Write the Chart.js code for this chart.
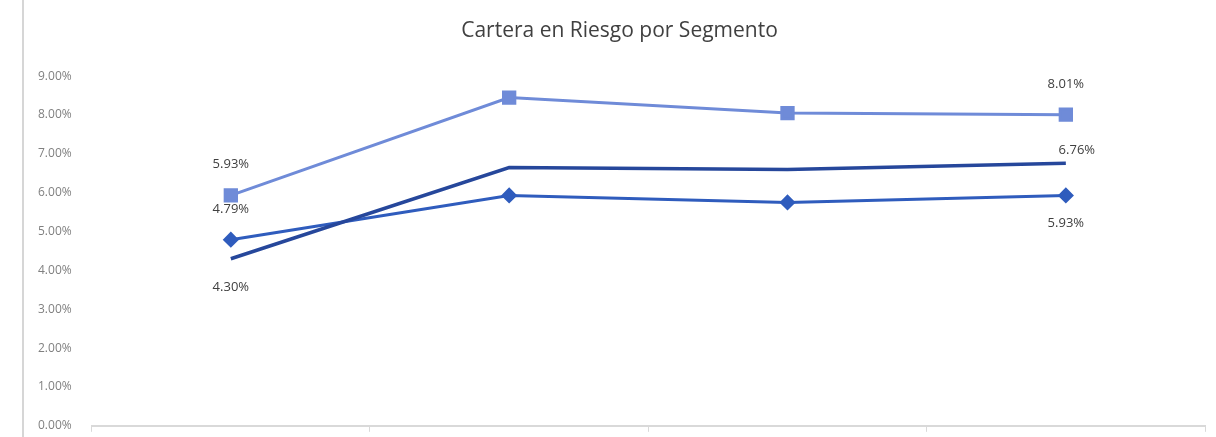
<!DOCTYPE html>
<html>
<head>
<meta charset="utf-8">
<script src="https://cdn.jsdelivr.net/npm/chart.js@4/dist/chart.umd.min.js"></script>
<style>
  html, body { margin: 0; padding: 0; background: #fff; overflow: hidden; }
  #wrap { position: relative; width: 1216px; height: 437px; overflow: hidden; }
  #edge { position: absolute; left: 22px; top: 0; width: 2px; height: 437px; background: #d6d6d6; }
</style>
</head>
<body>
<div id="wrap">
  <div id="edge"></div>
  <canvas id="myChart" width="1216" height="445"></canvas>
</div>
<script>
// categorias (los rótulos del eje X quedan fuera del recorte)
const categories = ['Segmento 1', 'Segmento 2', 'Segmento 3', 'Segmento 4'];
const yTicks = [0, 1, 2, 3, 4, 5, 6, 7, 8, 9];

// valores en %
const serieA = [5.93, 8.45, 8.05, 8.01];
const serieB = [4.30, 6.65, 6.60, 6.76];
const serieC = [4.79, 5.93, 5.75, 5.93];

// solo se rotulan el primer y el último punto
const labelIdx = [0, 3];

(() => {
  'use strict';

  const ctx = document.getElementById('myChart');

  // desplazamiento de cada rótulo [dataset][punto] -> [dx, dy]
  const labelOffsets = [
    { 0: [0, -31], 3: [0, -30] },
    { 0: [0, 29], 3: [11, -13] },
    { 0: [0, -30], 3: [0, 28] }
  ];

  const pointLabels = {
    id: 'pointLabels',
    afterDatasetsDraw(chart) {
      const c = chart.ctx;
      c.save();
      c.font = '13px "Open Sans", sans-serif';
      c.fillStyle = '#404040';
      c.textAlign = 'center';
      c.textBaseline = 'middle';
      chart.data.datasets.forEach((ds, i) => {
        const meta = chart.getDatasetMeta(i);
        labelIdx.forEach(j => {
          const pt = meta.data[j];
          const off = labelOffsets[i][j];
          c.fillText(ds.data[j].toFixed(2) + '%', pt.x + off[0], pt.y + off[1]);
        });
      });
      c.restore();
    }
  };

  new Chart(ctx, {
    type: 'line',
    data: {
      labels: categories,
      datasets: [
        {
          data: serieA,
          borderColor: '#6f8bd8',
          backgroundColor: '#6f8bd8',
          borderWidth: 3,
          pointStyle: 'rect',
          pointRadius: 8,
          pointHoverRadius: 8,
          tension: 0
        },
        {
          data: serieB,
          borderColor: '#26479b',
          backgroundColor: '#26479b',
          borderWidth: 3.5,
          pointRadius: 0,
          tension: 0
        },
        {
          data: serieC,
          borderColor: '#2f5cbd',
          backgroundColor: '#2f5cbd',
          borderWidth: 3,
          pointStyle: 'rectRot',
          pointRadius: 6,
          pointHoverRadius: 6,
          tension: 0
        }
      ]
    },
    options: {
      responsive: false,
      animation: false,
      layout: { padding: { left: 26, right: 3, top: 0, bottom: 4 } },
      scales: {
        x: {
          offset: true,
          grid: { display: true, drawOnChartArea: false, color: '#d9d9d9', tickLength: 6, offset: true },
          border: { color: '#d9d9d9', width: 2 },
          ticks: { display: false }
        },
        y: {
          min: 0,
          max: 9,
          afterBuildTicks: axis => { axis.ticks = yTicks.map(v => ({ value: v })); },
          grid: { display: false },
          border: { display: false },
          ticks: {
            padding: 12,
            color: '#808080',
            font: { family: '"Open Sans", sans-serif', size: 12 },
            callback: v => v.toFixed(2) + '%'
          }
        }
      },
      plugins: {
        legend: { display: false },
        tooltip: { enabled: false },
        title: {
          display: true,
          text: 'Cartera en Riesgo por Segmento',
          color: '#404040',
          font: { family: '"Open Sans", sans-serif', size: 21, weight: 'normal' },
          padding: { top: 18, bottom: 33 }
        }
      }
    },
    plugins: [pointLabels]
  });
})();
</script>
</body>
</html>
